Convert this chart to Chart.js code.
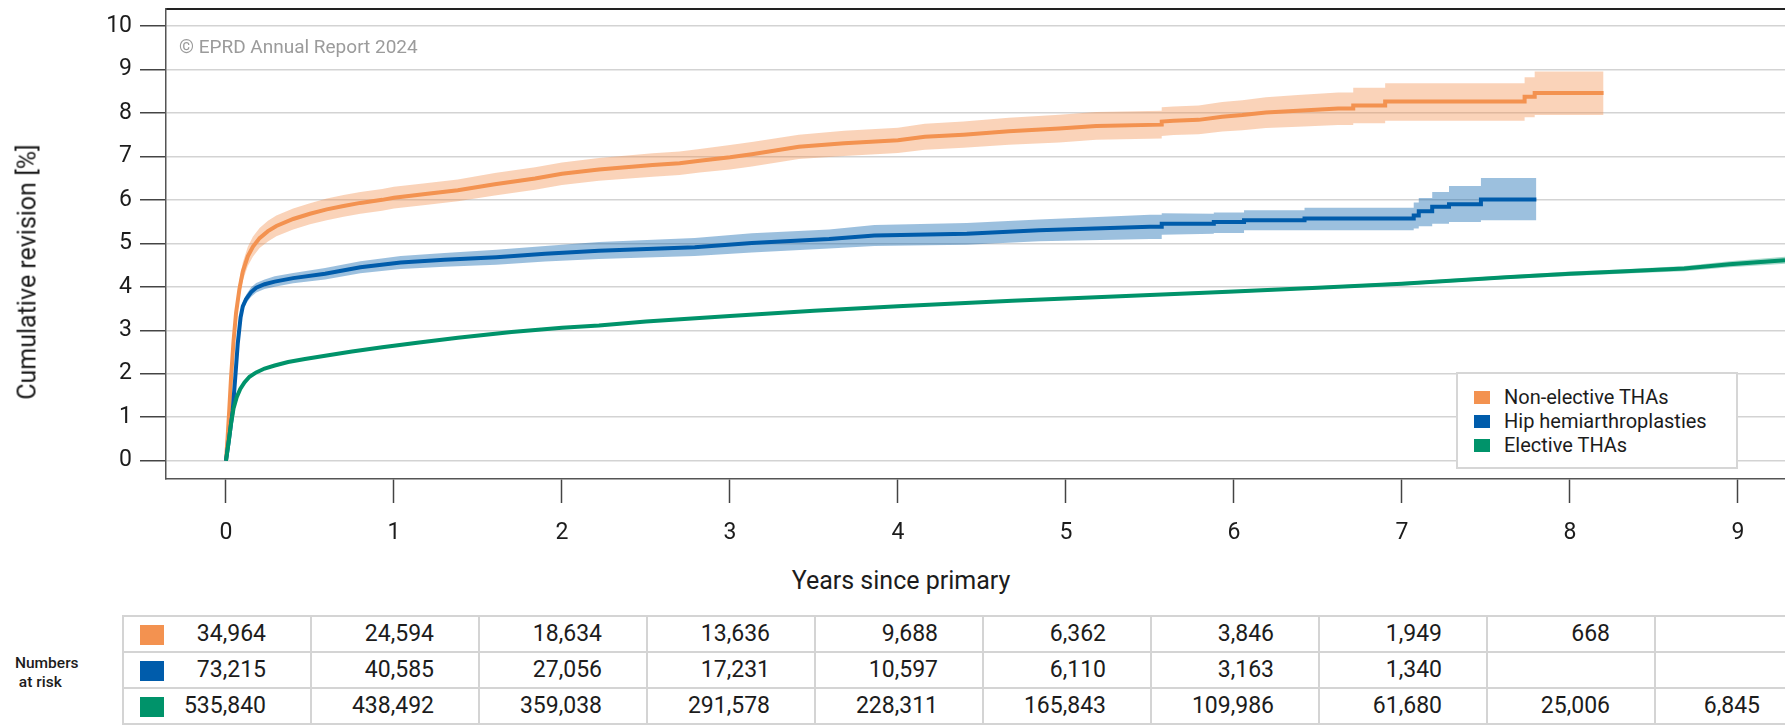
<!DOCTYPE html>
<html><head><meta charset="utf-8">
<script src="https://cdn.jsdelivr.net/npm/chart.js@4.4.1/dist/chart.umd.min.js"></script>
<style>
html,body{margin:0;padding:0;background:#fff;}
body{width:1785px;height:728px;overflow:hidden;position:relative;font-family:Roboto,"DejaVu Sans",sans-serif;color:#1c1c1c;}
#chart{position:absolute;left:0;top:0;}
#ytitle{position:absolute;left:27px;top:272px;transform:translate(-50%,-50%) rotate(-90deg);font-size:25px;line-height:25px;white-space:nowrap;}
#xtitle{position:absolute;left:901px;top:568px;transform:translateX(-50%);font-size:25px;line-height:25px;white-space:nowrap;}
#watermark{position:absolute;left:179px;top:37px;font-size:19px;line-height:19px;color:#9b9b9b;white-space:nowrap;}
#legend{position:absolute;left:1456px;top:372px;width:282px;height:97px;box-sizing:border-box;border:2px solid #d6d6d6;background:#fff;}
.lg-row{position:absolute;left:0;height:24px;width:100%;}
.lg-sq{position:absolute;left:16px;top:6px;width:16px;height:13px;}
.lg-tx{position:absolute;left:46px;top:0;font-size:20px;line-height:24px;white-space:nowrap;}
#risklabel{position:absolute;left:15px;top:654px;font-size:15.5px;line-height:19px;font-weight:500;white-space:nowrap;}
#risk{position:absolute;left:122px;top:615px;border-collapse:collapse;table-layout:fixed;}
#risk td{border:2px solid #d4d4d4;height:34px;padding:0 44px 0 0;text-align:right;font-size:23px;line-height:34px;white-space:nowrap;position:relative;color:#1c1c1c;}
#risk td.first{padding-left:0;}
.rk-sq{position:absolute;left:16px;top:8px;width:24px;height:20px;}
</style></head><body>
<canvas id="chart" width="1785" height="560"></canvas>
<div id="ytitle">Cumulative revision [%]</div>
<div id="xtitle">Years since primary</div>
<div id="watermark">© EPRD Annual Report 2024</div>
<div id="legend"></div>
<div id="risklabel">Numbers<br>&nbsp;at risk</div>
<table id="risk"></table>
<script>
// ---------- Data ----------
const seriesNames = ['Non-elective THAs', 'Hip hemiarthroplasties', 'Elective THAs'];
const lineColors = ['#F39250', '#005CAB', '#00936A'];
const bandColors = ['rgba(243,146,80,0.40)', 'rgba(0,92,171,0.39)', 'rgba(0,147,106,0.35)'];

const nonElectiveYears = [0,0.01,0.02,0.03,0.045,0.06,0.08,0.1,0.13,0.16,0.2,0.25,0.3,0.4,0.5,0.6,0.7,0.8,0.93,1.0,1.2,1.38,1.6,1.84,2.0,2.22,2.54,2.7,2.82,3.0,3.13,3.41,3.68,4.0,4.16,4.39,4.66,4.96,5.18,5.57,5.57,5.64,5.79,5.93,6.05,6.19,6.38,6.62,6.71,6.71,6.9,6.9,7.73,7.73,7.79,7.79,8.2];
const nonElectiveCum   = [0,0.55,1.2,1.9,2.75,3.4,3.95,4.35,4.7,4.92,5.12,5.28,5.4,5.56,5.68,5.78,5.86,5.93,6.0,6.05,6.14,6.22,6.36,6.49,6.6,6.7,6.8,6.84,6.9,6.98,7.05,7.22,7.3,7.37,7.45,7.5,7.58,7.64,7.7,7.73,7.8,7.82,7.84,7.91,7.95,8.01,8.05,8.1,8.1,8.17,8.17,8.26,8.26,8.37,8.37,8.46,8.46];
const nonElectiveLow   = [0,0.45,1.05,1.73,2.57,3.21,3.75,4.14,4.48,4.69,4.89,5.04,5.16,5.32,5.44,5.53,5.61,5.68,5.75,5.8,5.89,5.97,6.1,6.23,6.34,6.44,6.53,6.57,6.63,6.7,6.77,6.94,7.01,7.08,7.15,7.2,7.27,7.32,7.38,7.41,7.47,7.49,7.51,7.57,7.6,7.65,7.68,7.72,7.72,7.76,7.76,7.82,7.82,7.9,7.9,7.95,7.95];
const nonElectiveHigh  = [0,0.65,1.35,2.07,2.93,3.59,4.15,4.56,4.92,5.15,5.35,5.52,5.64,5.8,5.92,6.03,6.11,6.18,6.25,6.3,6.39,6.47,6.62,6.75,6.86,6.96,7.07,7.11,7.17,7.26,7.33,7.5,7.59,7.66,7.75,7.8,7.89,7.96,8.02,8.05,8.13,8.15,8.17,8.25,8.29,8.36,8.41,8.47,8.47,8.58,8.58,8.68,8.68,8.82,8.82,8.95,8.95];

const hemiYears = [0,0.02,0.04,0.055,0.07,0.087,0.1,0.12,0.15,0.18,0.23,0.29,0.4,0.59,0.8,1.04,1.3,1.61,1.9,2.22,2.79,3.13,3.59,3.86,4.41,4.84,5.5,5.57,5.57,5.88,5.88,6.06,6.06,6.42,6.42,7.07,7.07,7.1,7.1,7.18,7.18,7.28,7.28,7.47,7.47,7.8];
const hemiCum   = [0,0.55,1.15,1.9,2.69,3.3,3.55,3.72,3.88,3.98,4.06,4.12,4.2,4.3,4.45,4.56,4.62,4.68,4.76,4.83,4.91,5.01,5.1,5.18,5.22,5.3,5.38,5.38,5.45,5.45,5.49,5.49,5.53,5.53,5.57,5.57,5.64,5.64,5.74,5.74,5.84,5.84,5.9,5.9,6.01,6.01];
const hemiLow   = [0,0.5,1.08,1.82,2.6,3.21,3.45,3.62,3.77,3.87,3.95,4.0,4.08,4.17,4.31,4.41,4.46,4.51,4.58,4.64,4.71,4.79,4.88,4.94,4.97,5.05,5.1,5.1,5.2,5.22,5.24,5.24,5.3,5.3,5.3,5.3,5.34,5.34,5.39,5.39,5.45,5.45,5.49,5.49,5.53,5.53];
const hemiHigh  = [0,0.6,1.22,1.98,2.78,3.39,3.65,3.82,3.99,4.09,4.17,4.24,4.32,4.43,4.59,4.71,4.78,4.85,4.94,5.03,5.12,5.23,5.32,5.42,5.47,5.55,5.66,5.66,5.69,5.68,5.71,5.71,5.76,5.76,5.82,5.82,5.94,5.94,6.04,6.04,6.18,6.18,6.32,6.32,6.5,6.5];

const electiveYears = [0,0.015,0.03,0.045,0.064,0.085,0.11,0.14,0.18,0.23,0.29,0.37,0.47,0.6,0.75,0.93,1.15,1.38,1.7,2.0,2.22,2.5,3.0,3.5,4.0,4.68,5.0,5.5,5.79,6.0,6.5,7.0,7.62,8.0,8.3,8.68,8.95,9.28,9.4];
const electiveCum   = [0,0.4,0.85,1.2,1.46,1.65,1.8,1.93,2.03,2.12,2.19,2.27,2.34,2.42,2.51,2.61,2.72,2.83,2.96,3.06,3.11,3.2,3.33,3.45,3.55,3.68,3.73,3.81,3.86,3.89,3.98,4.07,4.22,4.3,4.35,4.42,4.52,4.61,4.63];
const electiveLow   = [0,0.38,0.83,1.18,1.44,1.63,1.78,1.91,2.01,2.1,2.17,2.25,2.32,2.4,2.49,2.59,2.7,2.81,2.94,3.04,3.09,3.18,3.31,3.43,3.53,3.66,3.7,3.78,3.83,3.86,3.95,4.03,4.18,4.25,4.3,4.36,4.45,4.53,4.55];
const electiveHigh  = [0,0.42,0.87,1.22,1.48,1.67,1.82,1.95,2.05,2.14,2.21,2.29,2.36,2.44,2.53,2.63,2.74,2.85,2.98,3.08,3.13,3.22,3.35,3.47,3.57,3.7,3.76,3.84,3.89,3.92,4.01,4.11,4.26,4.35,4.4,4.48,4.59,4.69,4.71];

const yTickValues = [0,1,2,3,4,5,6,7,8,9,10];
const xTickValues = [0,1,2,3,4,5,6,7,8,9];

const riskYears = [0,1,2,3,4,5,6,7,8,9];
const riskNonElective = [34964,24594,18634,13636,9688,6362,3846,1949,668,null];
const riskHemi        = [73215,40585,27056,17231,10597,6110,3163,1340,null,null];
const riskElective    = [535840,438492,359038,291578,228311,165843,109986,61680,25006,6845];

// ---------- Build chart ----------
const pts = (xs, ys) => xs.map((x, i) => ({x: x, y: ys[i]}));
const seriesData = [
  [nonElectiveYears, nonElectiveCum, nonElectiveLow, nonElectiveHigh],
  [hemiYears, hemiCum, hemiLow, hemiHigh],
  [electiveYears, electiveCum, electiveLow, electiveHigh]
];
const datasets = [];
seriesData.forEach((s, k) => {
  datasets.push({label: seriesNames[k] + ' upper', data: pts(s[0], s[3]), borderColor: 'transparent', borderWidth: 0,
    backgroundColor: bandColors[k], fill: '+1', pointRadius: 0, pointHitRadius: 0, order: 20 - k});
  datasets.push({label: seriesNames[k] + ' lower', data: pts(s[0], s[2]), borderColor: 'transparent', borderWidth: 0,
    backgroundColor: 'transparent', fill: false, pointRadius: 0, pointHitRadius: 0, order: 20 - k});
});
seriesData.forEach((s, k) => {
  datasets.push({label: seriesNames[k], data: pts(s[0], s[1]), borderColor: lineColors[k], borderWidth: 4,
    backgroundColor: lineColors[k], fill: false, pointRadius: 0, pointHitRadius: 0, tension: 0,
    borderJoinStyle: 'miter', borderCapStyle: 'butt', order: 2 - k});
});

const tickFont = {family: 'Roboto', size: 23};
const CANVAS_H = 560, PLOT_TOP = 9, PLOT_BOTTOM = 479, PLOT_LEFT = 166;

new Chart(document.getElementById('chart'), {
  type: 'line',
  data: {datasets: datasets},
  options: {
    responsive: false, animation: false, devicePixelRatio: 1,
    layout: {padding: 0},
    plugins: {legend: {display: false}, tooltip: {enabled: false}},
    scales: {
      x: {
        type: 'linear', position: 'bottom', min: -0.357, max: 9.28,
        afterBuildTicks: s => { s.ticks = xTickValues.map(v => ({value: v})); },
        ticks: {includeBounds: false, stepSize: 1, font: tickFont, color: '#1c1c1c', padding: 16, maxRotation: 0, autoSkip: false},
        grid: {drawOnChartArea: false, drawTicks: true, tickLength: 24, tickColor: '#444', tickWidth: 1.5},
        border: {display: true, color: '#555', width: 1.5},
        afterFit: s => { s.height = CANVAS_H - PLOT_BOTTOM; s.paddingLeft = 0; s.paddingRight = 0; }
      },
      x2: {
        type: 'linear', position: 'top', display: true, min: 0, max: 1,
        ticks: {display: false}, grid: {display: false, drawTicks: false},
        border: {display: true, color: '#222', width: 2},
        afterFit: s => { s.height = PLOT_TOP; s.paddingLeft = 0; s.paddingRight = 0; }
      },
      y: {
        type: 'linear', position: 'left', min: -0.421, max: 10.39,
        afterBuildTicks: s => { s.ticks = yTickValues.map(v => ({value: v})); },
        ticks: {includeBounds: false, stepSize: 1, font: tickFont, color: '#1c1c1c', padding: 8},
        grid: {color: '#d3d3d3', lineWidth: 1.5, drawTicks: true, tickLength: 26, tickColor: '#444', tickWidth: 1.5},
        border: {display: true, color: '#555', width: 1.5},
        afterFit: s => { s.width = PLOT_LEFT; s.paddingTop = 0; s.paddingBottom = 0; }
      }
    }
  }
});

// ---------- Legend ----------
const legend = document.getElementById('legend');
seriesNames.forEach((n, k) => {
  const row = document.createElement('div');
  row.className = 'lg-row';
  row.style.top = (11 + 24 * k) + 'px';
  row.innerHTML = '<div class="lg-sq" style="background:' + lineColors[k] + '"></div><div class="lg-tx">' + n + '</div>';
  legend.appendChild(row);
});

// ---------- Numbers at risk table ----------
const table = document.getElementById('risk');
const colWidths = riskYears.map((y, i) => i === 0 ? 188 : (i === riskYears.length - 1 ? 150 : 168));
const cg = document.createElement('colgroup');
colWidths.forEach(w => { const c = document.createElement('col'); c.style.width = w + 'px'; cg.appendChild(c); });
table.appendChild(cg);
table.style.width = colWidths.reduce((a, b) => a + b, 0) + 'px';
[riskNonElective, riskHemi, riskElective].forEach((row, k) => {
  const tr = document.createElement('tr');
  row.forEach((v, i) => {
    const td = document.createElement('td');
    if (i === 0) {
      td.className = 'first';
      const sq = document.createElement('div');
      sq.className = 'rk-sq';
      sq.style.background = lineColors[k];
      td.appendChild(sq);
    }
    td.appendChild(document.createTextNode(v == null ? '' : v.toLocaleString('en-US')));
    tr.appendChild(td);
  });
  table.appendChild(tr);
});
</script>
</body></html>
